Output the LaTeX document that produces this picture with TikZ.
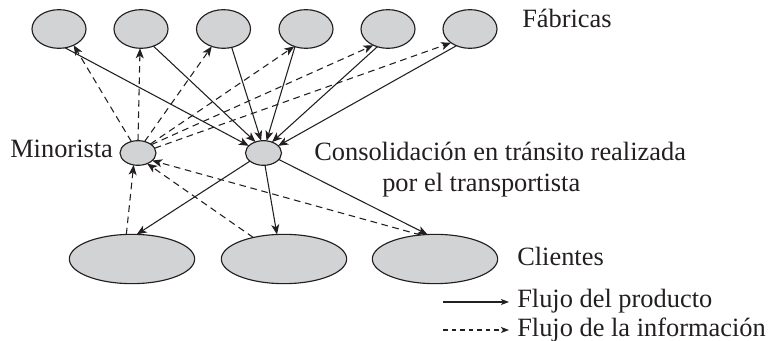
\documentclass[tikz,border=0pt]{standalone}
\usepackage{fontspec}
\setmainfont{Liberation Serif}
\usetikzlibrary{arrows.meta,shapes.geometric}
\definecolor{ink}{HTML}{231F20}
\definecolor{blob}{HTML}{D1D3D4}
\tikzset{
  x=0.75pt,y=-0.75pt,
  site/.style={ellipse,draw=ink,fill=blob,line width=0.85pt,inner sep=0pt,outer sep=0pt},
  factory/.style={site,minimum width=40.5pt,minimum height=29pt},
  hub/.style={site,minimum width=27pt,minimum height=18.5pt},
  client/.style={site,minimum width=94pt,minimum height=37pt},
  lbl/.style={text=ink,font=\fontsize{19.8}{22}\selectfont,inner sep=0pt,anchor=base west},
  prod/.style={draw=ink,line width=0.8pt,-{Stealth[length=7.5pt,width=6pt,inset=2pt]}},
  info/.style={draw=ink,line width=0.8pt,dash pattern=on 5pt off 3.5pt,-{Stealth[length=7.5pt,width=6pt,inset=2pt]}},
  keyprod/.style={draw=ink,line width=0.8pt,-{Stealth[length=6pt,width=4.5pt,inset=1.5pt]}},
  keyinfo/.style={draw=ink,line width=0.8pt,dash pattern=on 3.4pt off 3pt,-{Stealth[length=6pt,width=4.5pt,inset=1.5pt]}}
}
\begin{document}
\begin{tikzpicture}
\useasboundingbox (0,0) rectangle (769,341);
\node[factory] (f1) at (59,29) {};
\node[factory] (f2) at (141,29) {};
\node[factory] (f3) at (223.5,29) {};
\node[factory] (f4) at (306,29) {};
\node[factory] (f5) at (388,29) {};
\node[factory] (f6) at (470,29) {};
\node[hub] (min) at (138,153) {};
\node[hub] (cons) at (263.5,153) {};
\node[client] (c1) at (132,259) {};
\node[client] (c2) at (284,259) {};
\node[client] (c3) at (435,259) {};
\node[lbl] (tf) at (522,28) {Fábricas};
\node[lbl] (tm) at (10,158) {Minorista};
\node[lbl] (tc1) at (314,160.5) {Consolidación en tránsito realizada};
\node[lbl] (tc2) at (382,192) {por el transportista};
\node[lbl] (tcl) at (517,266) {Clientes};
\node[lbl] (tp) at (517,308) {Flujo del producto};
\node[lbl] (ti) at (517,337) {Flujo de la información};
\coordinate (kp1) at (443,302);
\coordinate (kp2) at (509,302);
\coordinate (ki1) at (443,330);
\coordinate (ki2) at (509,330);
% product
\draw[prod] (f1.-72.5) -- (cons.154);
\draw[prod] (f2.-54) -- (cons.126);
\draw[prod] (f3.-66) -- (cons.101);
\draw[prod] (f4.-122) -- (cons.76);
\draw[prod] (f5.-121.4) -- (cons.52.5);
\draw[prod] (f6.-129) -- (cons.26);
\draw[prod] (cons.-149) -- (c1.79);
\draw[prod] (cons.-83) -- (c2.106);
\draw[prod] (cons.-23) -- (c3.107);
% information
\draw[info] (min.120) -- (f1.-48);
\draw[info] (min.90) -- (f2.-93);
\draw[info] (min.60) -- (f3.-124);
\draw[info] (min.36) -- (f4.-124);
\draw[info] (min.32) -- (f5.-132);
\draw[info] (min.16) -- (f6.-144);
\draw[info] (c1.103) -- (min.-110);
\draw[info] (c2.145) -- (min.-49);
\draw[info] (c3.121) -- (min.-28);
% key
\draw[keyprod] (kp1) -- (kp2);
\draw[keyinfo] (ki1) -- (ki2);
\end{tikzpicture}
\end{document}
